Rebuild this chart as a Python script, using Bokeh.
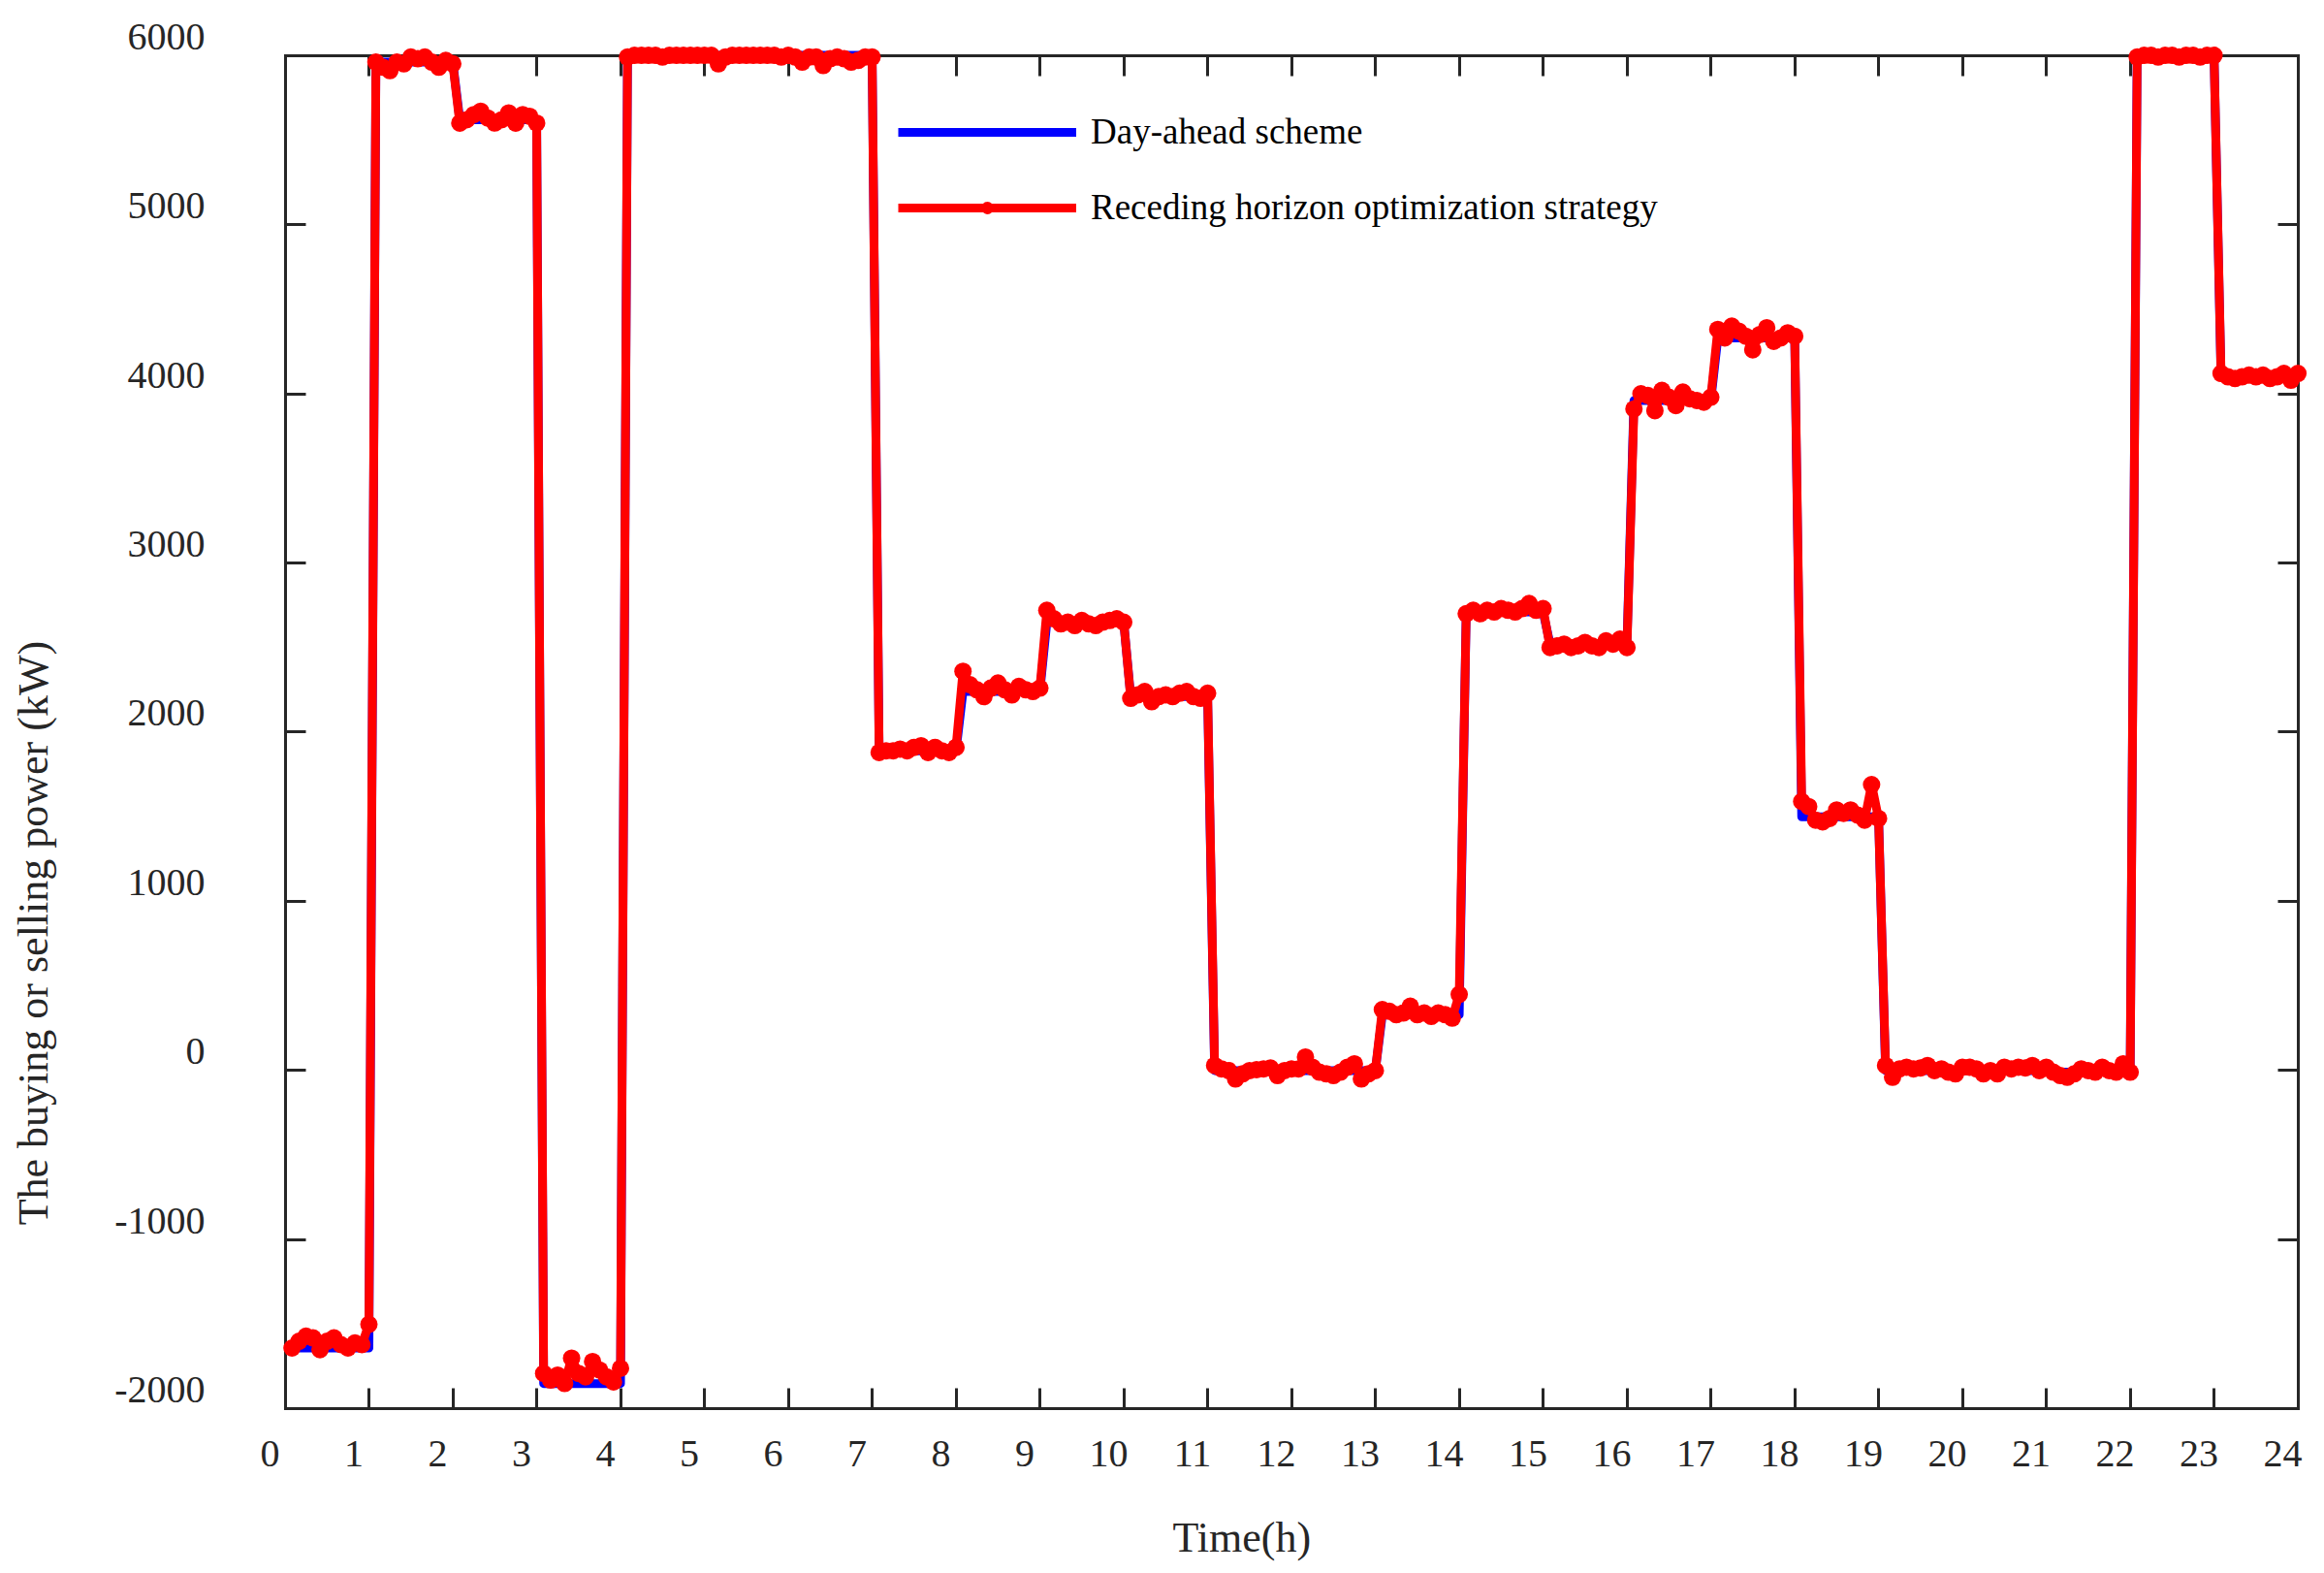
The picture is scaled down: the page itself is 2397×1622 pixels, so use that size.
import math
from bokeh.plotting import figure
from bokeh.models import (Range1d, LinearAxis, FixedTicker, ColumnDataSource,
                          LabelSet, Label, Legend, LegendItem)
from bokeh.core.properties import value
from bokeh.embed import file_html
from bokeh.resources import INLINE

# ---------------- data ----------------
HOURS = list(range(24))
SAMPLES_PER_HOUR = 12
X_TICKS = list(range(0, 25))
X_TICK_LABELS = [str(v) for v in X_TICKS]
Y_TICKS = [-2000, -1000, 0, 1000, 2000, 3000, 4000, 5000, 6000]
Y_TICK_LABELS = [str(v) for v in Y_TICKS]

# Day-ahead scheme: one value per hour (kW)
day_ahead_hourly = [-1640, 5960, 5620, -1850, 6000, 6000, 6000, 1890,
                    2240, 2650, 2210, 0, 0, 330, 2710, 2520,
                    3960, 4330, 1500, 0, 0, -10, 6000, 4100]

# Receding horizon optimization strategy: 12 samples per hour (kW)
red_h00 = [-1640, -1600, -1570, -1580, -1650, -1600, -1580, -1620, -1640, -1610, -1620, -1500]
red_h01 = [5960, 5930, 5910, 5960, 5950, 5990, 5980, 5990, 5960, 5930, 5970, 5950]
red_h02 = [5600, 5620, 5650, 5670, 5630, 5600, 5620, 5660, 5600, 5650, 5640, 5600]
red_h03 = [-1790, -1830, -1800, -1850, -1700, -1790, -1810, -1720, -1770, -1810, -1840, -1760]
red_h04 = [5990, 6000, 6000, 6000, 6000, 5990, 6000, 6000, 6000, 6000, 6000, 6000]
red_h05 = [6000, 5950, 5990, 6000, 6000, 6000, 6000, 6000, 6000, 6000, 5990, 6000]
red_h06 = [5990, 5960, 5990, 5990, 5940, 5980, 5990, 5980, 5960, 5970, 5990, 5990]
red_h07 = [1880, 1890, 1890, 1900, 1890, 1910, 1920, 1880, 1910, 1890, 1880, 1910]
red_h08 = [2360, 2280, 2250, 2210, 2260, 2290, 2250, 2220, 2270, 2250, 2240, 2260]
red_h09 = [2720, 2670, 2640, 2650, 2630, 2660, 2640, 2630, 2650, 2660, 2670, 2650]
red_h10 = [2200, 2220, 2240, 2180, 2210, 2220, 2210, 2230, 2240, 2210, 2200, 2230]
red_h11 = [30, 10, 0, -50, -20, 0, 5, 10, 15, -30, 0, 10]
red_h12 = [10, 80, 20, -10, -20, -30, -10, 20, 40, -50, -20, 0]
red_h13 = [360, 350, 330, 340, 380, 330, 340, 320, 340, 330, 310, 450]
red_h14 = [2700, 2720, 2700, 2720, 2710, 2730, 2720, 2710, 2730, 2760, 2720, 2730]
red_h15 = [2500, 2510, 2520, 2500, 2510, 2530, 2510, 2500, 2540, 2520, 2550, 2500]
red_h16 = [3910, 4000, 3990, 3900, 4020, 3980, 3930, 4010, 3970, 3960, 3950, 3980]
red_h17 = [4380, 4330, 4400, 4370, 4340, 4260, 4350, 4390, 4310, 4330, 4360, 4340]
red_h18 = [1590, 1560, 1480, 1470, 1490, 1540, 1520, 1540, 1510, 1480, 1690, 1490]
red_h19 = [30, -40, 10, 20, 10, 15, 30, 0, 10, -10, -20, 20]
red_h20 = [20, 10, -20, 0, -20, 20, 10, 20, 15, 30, 0, 20]
red_h21 = [-10, -30, -40, -20, 10, 0, -10, 20, 0, -10, 40, -10]
red_h22 = [5990, 6000, 6000, 5990, 6000, 6000, 5990, 6000, 6000, 5990, 6000, 6000]
red_h23 = [4120, 4100, 4090, 4100, 4110, 4100, 4110, 4090, 4100, 4120, 4080, 4120]

receding = (red_h00 + red_h01 + red_h02 + red_h03 + red_h04 + red_h05 + red_h06 + red_h07 +
            red_h08 + red_h09 + red_h10 + red_h11 + red_h12 + red_h13 + red_h14 + red_h15 +
            red_h16 + red_h17 + red_h18 + red_h19 + red_h20 + red_h21 + red_h22 + red_h23)

times = [h + (i + 1) / SAMPLES_PER_HOUR for h in HOURS for i in range(SAMPLES_PER_HOUR)]
day_ahead = [day_ahead_hourly[h] for h in HOURS for i in range(SAMPLES_PER_HOUR)]

# ---------------- layout (pixels) ----------------
FIG_W, FIG_H = 2390, 1615
BOX_L, BOX_R, BOX_T, BOX_B = 293.5, 2369.6, 56.6, 1452.3
X0, X1, Y0, Y1 = 0, 24, -2000, 6000
KX = (BOX_R - BOX_L) / (X1 - X0)
KY = (BOX_B - BOX_T) / (Y1 - Y0)
XS = X0 - BOX_L / KX
XE = XS + FIG_W / KX
YE = Y1 + BOX_T / KY
YS = YE - FIG_H / KY


def px_x(sx):
    return XS + sx / KX


def px_y(sy):
    return YE - sy / KY


AXC = "#262626"
FONT = "Liberation Serif"

p = figure(width=FIG_W, height=FIG_H,
           x_range=Range1d(XS, XE), y_range=Range1d(YS, YE),
           output_backend="svg", toolbar_location=None,
           x_axis_location=None, y_axis_location=None)
p.min_border = 0
p.min_border_left = 0
p.min_border_right = 0
p.min_border_top = 0
p.min_border_bottom = 0
p.outline_line_color = None
p.background_fill_color = "white"
p.border_fill_color = "white"
p.grid.grid_line_color = None


def make_axis(ticks, loc, bounds):
    ax = LinearAxis(ticker=FixedTicker(ticks=ticks, minor_ticks=[]),
                    fixed_location=loc, bounds=bounds)
    ax.axis_line_color = AXC
    ax.axis_line_width = 3
    ax.axis_line_cap = "square"
    ax.major_tick_in = 21
    ax.major_tick_out = 0
    ax.major_tick_line_color = AXC
    ax.major_tick_line_width = 3
    ax.minor_tick_line_color = None
    ax.major_label_text_font_size = "0px"
    ax.major_label_text_color = None
    ax.major_label_standoff = 0
    return ax


p.add_layout(make_axis(X_TICKS, Y0, (X0, X1)), "below")
p.add_layout(make_axis(X_TICKS, Y1, (X0, X1)), "above")
p.add_layout(make_axis(Y_TICKS, X0, (Y0, Y1)), "left")
p.add_layout(make_axis(Y_TICKS, X1, (Y0, Y1)), "right")

blue_line = p.line(times, day_ahead, line_color="#0000ff", line_width=9,
                   line_join="round", level="annotation")
red_line = p.line(times, receding, line_color="#ff0000", line_width=9,
                  line_join="round", level="annotation")
red_pts = p.scatter(times, receding, marker="circle", size=18,
                    fill_color="#ff0000", line_color="#ff0000", line_width=0,
                    level="annotation")

# tick labels (drawn as text, offset like the original export)
xsrc = ColumnDataSource(dict(x=[v - 15.5 / KX for v in X_TICKS],
                             y=[px_y(BOX_B + 46)] * len(X_TICKS),
                             text=X_TICK_LABELS))
p.add_layout(LabelSet(x="x", y="y", text="text", source=xsrc,
                      text_align="center", text_baseline="middle",
                      text_font=value(FONT), text_font_size=value("40px"),
                      text_color=AXC))
ysrc = ColumnDataSource(dict(x=[px_x(BOX_L - 82.5)] * len(Y_TICKS),
                             y=[v + 19.5 / KY for v in Y_TICKS],
                             text=Y_TICK_LABELS))
p.add_layout(LabelSet(x="x", y="y", text="text", source=ysrc,
                      text_align="right", text_baseline="middle",
                      text_font=value(FONT), text_font_size=value("40px"),
                      text_color=AXC))

# axis titles
p.add_layout(Label(x=px_x(1280.3), y=px_y(1585), text="Time(h)",
                   text_align="center", text_baseline="middle",
                   text_font=FONT, text_font_size="44px", text_color=AXC))
p.add_layout(Label(x=px_x(34), y=px_y(961.6), text="The buying or selling power (kW)",
                   angle=math.pi / 2, text_align="center", text_baseline="middle",
                   text_font=FONT, text_font_size="44px", text_color=AXC))

legend = Legend(items=[LegendItem(label="Day-ahead scheme", renderers=[blue_line]),
                       LegendItem(label="Receding horizon optimization strategy",
                                  renderers=[red_line, red_pts])],
                location=(926, FIG_H - 120 - 115), orientation="vertical",
                glyph_width=184, glyph_height=32, label_standoff=15,
                spacing=35, padding=0, margin=0,
                border_line_color=None, background_fill_alpha=0,
                label_text_font=FONT, label_text_font_size="37px",
                label_text_color="#000000")
p.add_layout(legend)

open("out.html", "w").write(file_html(p, INLINE))
